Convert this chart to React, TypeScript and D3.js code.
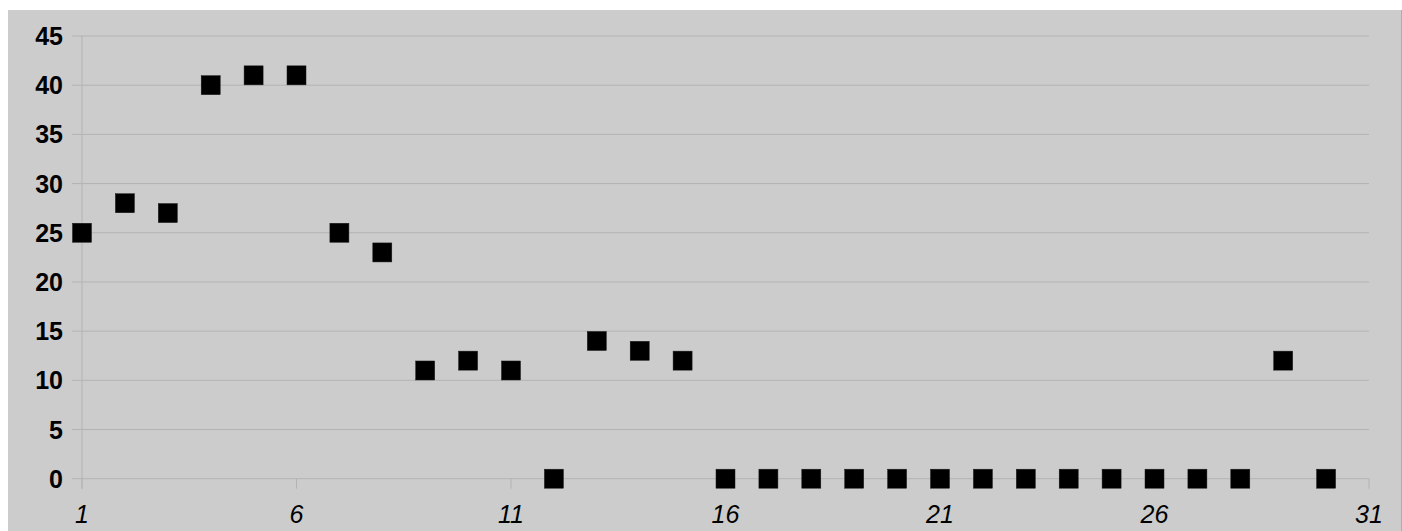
import React from "react";
import * as d3 from "d3";

const xValues = [
  1, 2, 3, 4, 5, 6, 7, 8, 9, 10, 11, 12, 13, 14, 15, 16, 17, 18, 19, 20, 21,
  22, 23, 24, 25, 26, 27, 28, 29, 30,
];
const yValues = [
  25, 28, 27, 40, 41, 41, 25, 23, 11, 12, 11, 0, 14, 13, 12, 0, 0, 0, 0, 0, 0,
  0, 0, 0, 0, 0, 0, 0, 12, 0,
];
const yTicks = [0, 5, 10, 15, 20, 25, 30, 35, 40, 45];
const xTicks = [1, 6, 11, 16, 21, 26, 31];

const W = 1402;
const H = 531;
const M = { l: 82, r: 33, t: 36, b: 52.3 };
const FONT = "'Liberation Sans', Arial, sans-serif";
const GRID = "#b3b3b3";

export default function App() {
  const x = d3.scaleLinear().domain([1, 31]).range([M.l, W - M.r]);
  const y = d3.scaleLinear().domain([0, 45]).range([H - M.b, M.t]);
  const s = 19;

  return (
    <div
      style={{
        position: "absolute",
        left: 0,
        top: 0,
        width: W,
        height: H,
        overflow: "hidden",
      }}
    >
      <svg width={W} height={H} style={{ display: "block" }}>
        <rect x={8} y={10} width={W - 8} height={H - 10} fill="#cccccc" />
        <line x1={W - 0.5} x2={W - 0.5} y1={10} y2={H} stroke="#adadad" />

        {yTicks.map((t) => (
          <g key={"y" + t}>
            <line
              x1={M.l - 10}
              x2={W - M.r}
              y1={y(t)}
              y2={y(t)}
              stroke={GRID}
              strokeWidth={1}
            />
            <text
              x={M.l - 19}
              y={y(t) + 9}
              textAnchor="end"
              fontFamily={FONT}
              fontWeight="bold"
              fontSize={25}
              fill="#000"
            >
              {t}
            </text>
          </g>
        ))}

        <line
          x1={M.l}
          x2={M.l}
          y1={y(45)}
          y2={y(0) + 10}
          stroke={GRID}
          strokeWidth={1}
        />

        {xTicks.map((t) => (
          <g key={"x" + t}>
            <line
              x1={x(t)}
              x2={x(t)}
              y1={y(0)}
              y2={y(0) + 10}
              stroke={GRID}
              strokeWidth={1}
            />
            <text
              x={x(t)}
              y={y(0) + 44}
              textAnchor="middle"
              fontFamily={FONT}
              fontStyle="italic"
              fontSize={25}
              fill="#000"
            >
              {t}
            </text>
          </g>
        ))}

        {xValues.map((v, i) => (
          <rect
            key={"p" + v}
            x={x(v) - s / 2}
            y={y(yValues[i]) - s / 2}
            width={s}
            height={s}
            fill="#000"
            stroke="#1a1a1a"
            strokeWidth={0.5}
          />
        ))}
      </svg>
    </div>
  );
}
